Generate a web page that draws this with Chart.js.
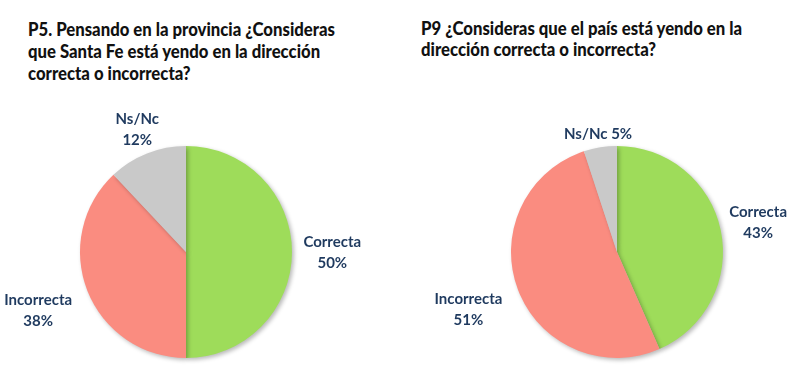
<!DOCTYPE html>
<html>
<head>
<meta charset="utf-8">
<script src="https://cdn.jsdelivr.net/npm/chart.js@4"></script>
<style>
  body { margin: 0; background: #fff; }
  #wrap { position: relative; width: 800px; height: 388px; overflow: hidden; }
  .title { position: absolute; font-family: Lato, sans-serif; font-weight: 900; font-size: 19px; line-height: 22px; color: #111;
           white-space: nowrap; transform: scaleX(0.88); transform-origin: left top; }
  #t1 { left: 28px; top: 18px; }
  #t2 { left: 421px; top: 17px; line-height: 21px; }
  canvas { position: absolute; top: 0; }
  #c1 { left: 0; }
  #c2 { left: 400px; }
</style>
</head>
<body>
<div id="wrap">
  <div class="title" id="t1">P5. Pensando en la provincia ¿Consideras<br>que Santa Fe está yendo en la dirección<br>correcta o incorrecta?</div>
  <div class="title" id="t2">P9 ¿Consideras que el país está yendo en la<br>dirección correcta o incorrecta?</div>
  <canvas id="c1" width="400" height="388"></canvas>
  <canvas id="c2" width="400" height="388"></canvas>
</div>
<script>
// datos
const categories = ['Correcta', 'Incorrecta', 'Ns/Nc'];
const santaFeValues = [50, 38, 12];
const paisValues = [43, 51, 5];
const colors = ['#9edc5a', '#fa8c80', '#c9c9c9'];

// etiquetas fuera de la torta
const outsideLabels = {
    id: 'outsideLabels',
    afterDatasetsDraw(chart, args, opts) {
        const ctx = chart.ctx;
        const meta = chart.getDatasetMeta(0);
        const data = chart.data.datasets[0].data;
        ctx.save();
        ctx.font = 'bold 15px Lato, sans-serif';
        ctx.fillStyle = '#1f3a5f';
        ctx.textAlign = 'center';
        ctx.textBaseline = 'middle';
        meta.data.forEach((arc, i) => {
            const mid = (arc.startAngle + arc.endAngle) / 2;
            const d = arc.outerRadius * opts.dist[i];
            const x = arc.x + Math.cos(mid) * d;
            const y = arc.y + Math.sin(mid) * d;
            const lbl = chart.data.labels[i];
            const pct = data[i] + '%';
            if (opts.oneLine[i]) {
                ctx.fillText(lbl + ' ' + pct, x, y);
            } else {
                ctx.fillText(lbl, x, y - 10);
                ctx.fillText(pct, x, y + 11);
            }
        });
        ctx.restore();
    }
};

// sombra suave
const pieShadow = {
    id: 'pieShadow',
    beforeDatasetsDraw(chart) {
        const ctx = chart.ctx;
        ctx.save();
        ctx.shadowColor = 'rgba(0,0,0,0.28)';
        ctx.shadowBlur = 4;
        ctx.shadowOffsetX = 2;
        ctx.shadowOffsetY = 2;
    },
    afterDatasetsDraw(chart) {
        chart.ctx.restore();
    }
};

function makePie(id, values, padding, dist, oneLine) {
    return new Chart(document.getElementById(id), {
        type: 'pie',
        data: {
            labels: categories,
            datasets: [{
                data: values,
                backgroundColor: colors,
                borderWidth: 0
            }]
        },
        options: {
            responsive: false,
            animation: false,
            layout: { padding: padding },
            plugins: {
                legend: { display: false },
                tooltip: { enabled: false },
                outsideLabels: { dist: dist, oneLine: oneLine }
            }
        },
        plugins: [pieShadow, outsideLabels]
    });
}

makePie('c1', santaFeValues, { top: 146, bottom: 30, left: 80, right: 108 }, [1.38, 1.5, 1.25], [false, false, false]);
makePie('c2', paisValues, { top: 146, bottom: 30, left: 111, right: 77 }, [1.36, 1.5, 1.13], [false, false, true]);
</script>
</body>
</html>
